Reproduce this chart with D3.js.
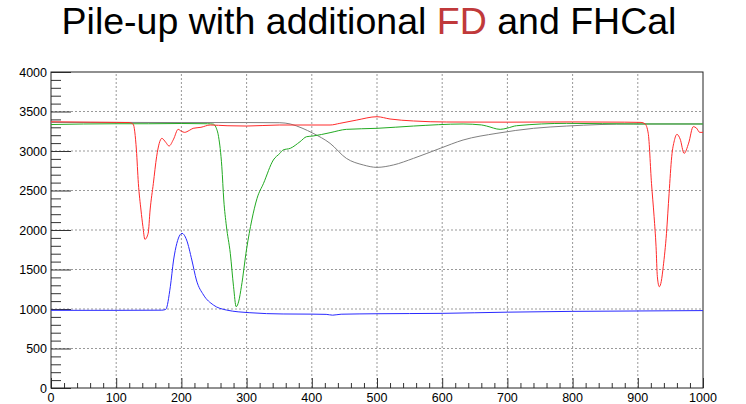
<!DOCTYPE html>
<html>
<head>
<meta charset="utf-8">
<script src="https://cdn.jsdelivr.net/npm/d3@7"></script>
<style>
  body { margin: 0; background: #fff; }
  svg { display: block; font-family: "Liberation Sans", Arial, sans-serif; }
</style>
</head>
<body>
<script>
let w = 746;
let h = 404;
let margin = {left: 51, right: 43, top: 72, bottom: 16};

let xTicks = [0,100,200,300,400,500,600,700,800,900,1000];
let yTicks = [0,500,1000,1500,2000,2500,3000,3500,4000];

// [x, value]
let redPts = [[0,3370],[60,3365],[100,3362],[120,3360],[126,3340],[131,3013],[134,2591],[138,2253],[141,2042],[144,1882],
  [149,1958],[152,2253],[157,2591],[162,2928],[166,3097],[170,3160],[176,3110],[181,3063],[188,3150],[195,3274],
  [200,3250],[205,3236],[212,3260],[218,3287],[230,3300],[244,3329],[270,3320],[300,3316],[350,3329],[400,3329],
  [428,3329],[443,3350],[469,3392],[500,3434],[520,3405],[556,3380],[607,3367],[700,3365],[800,3368],[880,3365],
  [905,3362],[911,3345],[916,3224],[921,2591],[925,2169],[928,1789],[930,1409],[933,1282],[936,1350],[939,1535],
  [944,1958],[948,2464],[952,2928],[956,3130],[960,3211],[965,3150],[971,2970],[978,3100],[985,3308],[990,3290],
  [995,3236],[1000,3236]];
let greenPts = [[0,3335],[50,3342],[100,3345],[150,3345],[200,3348],[240,3345],[249,3340],[253,3300],[257,3181],[262,2801],
  [265,2380],[269,2050],[275,1705],[280,1282],[284,1029],[288,1100],[292,1282],[300,1760],[308,2127],[316,2400],
  [326,2591],[341,2886],[351,2970],[356,3013],[367,3034],[382,3118],[392,3181],[402,3190],[428,3232],[453,3274],
  [500,3287],[556,3316],[632,3342],[660,3330],[668,3316],[689,3274],[700,3290],[714,3320],[791,3350],[900,3342],
  [1000,3342]];
let grayPts = [[0,3362],[100,3362],[200,3360],[300,3360],[351,3358],[367,3342],[385,3290],[402,3224],[428,3097],[453,2907],
  [479,2823],[500,2793],[525,2823],[556,2907],[597,3034],[632,3139],[684,3224],[740,3287],[791,3316],[893,3342],
  [1000,3342]];
let bluePts = [[0,983],[100,983],[170,985],[176,995],[183,1282],[188,1620],[193,1831],[198,1940],[201,1958],[204,1940],
  [208,1873],[216,1620],[223,1367],[234,1177],[249,1051],[269,987],[305,953],[356,937],[400,935],[422,932],
  [432,922],[445,934],[500,940],[600,945],[700,960],[800,970],[900,975],[1000,980]];

let svg = d3.select("body")
            .append("svg")
            .attr("width", w)
            .attr("height", h);

let x = d3.scaleLinear().domain([0, 1000]).range([margin.left, w - margin.right]);
let y = d3.scaleLinear().domain([0, 4000]).range([h - margin.bottom, margin.top]);

// title
let title = svg.append("text")
  .attr("x", 369).attr("y", 34)
  .attr("text-anchor", "middle")
  .attr("font-size", 37.5);
title.append("tspan").text("Pile-up with additional ");
title.append("tspan").attr("fill", "#c0393b").text("FD");
title.append("tspan").text(" and FHCal");

// grid
svg.append("g").selectAll("line")
  .data(xTicks.slice(1, -1))
  .enter().append("line")
    .attr("x1", d => x(d)).attr("x2", d => x(d))
    .attr("y1", y(0)).attr("y2", y(4000))
    .attr("stroke", "#999").attr("stroke-dasharray", "2,2");
svg.append("g").selectAll("line")
  .data(yTicks.slice(1, -1))
  .enter().append("line")
    .attr("x1", x(0)).attr("x2", x(1000))
    .attr("y1", d => y(d)).attr("y2", d => y(d))
    .attr("stroke", "#999").attr("stroke-dasharray", "2,2");

// axes, ticks drawn inside like ROOT
let xAxis = svg.append("g").attr("transform", "translate(0," + y(0) + ")")
  .call(d3.axisTop(x).tickValues(d3.range(0, 1001, 20)).tickSize(5).tickFormat(""));
xAxis.selectAll(".tick line").filter(d => d % 100 === 0).attr("y2", -10);
svg.append("g").selectAll("text")
  .data(xTicks)
  .enter().append("text")
    .attr("x", d => x(d)).attr("y", y(0) + 14)
    .attr("text-anchor", "middle").attr("font-size", 12.5)
    .text(d => d);

let yAxis = svg.append("g").attr("transform", "translate(" + x(0) + ",0)")
  .call(d3.axisRight(y).tickValues(d3.range(0, 4001, 100)).tickSize(10).tickFormat(""));
yAxis.selectAll(".tick line").filter(d => d % 500 === 0).attr("x2", 20);
svg.append("g").selectAll("text")
  .data(yTicks)
  .enter().append("text")
    .attr("x", x(0) - 4).attr("y", d => y(d) + 4.5)
    .attr("text-anchor", "end").attr("font-size", 12.5)
    .text(d => d);

svg.selectAll(".domain").attr("stroke", "none");
svg.selectAll(".tick line").attr("stroke", "#333");

// frame
svg.append("rect")
  .attr("x", x(0)).attr("y", y(4000))
  .attr("width", x(1000) - x(0)).attr("height", y(0) - y(4000))
  .attr("fill", "none").attr("stroke", "#222");

// curves
let line = d3.line()
  .x(d => x(d[0]))
  .y(d => y(d[1]))
  .curve(d3.curveMonotoneX);

let series = [
  {pts: grayPts, color: "#808080"},
  {pts: greenPts, color: "#22aa22"},
  {pts: redPts, color: "#ff2a2a"},
  {pts: bluePts, color: "#2a2aff"}
];

svg.selectAll("path.curve")
  .data(series)
  .enter().append("path")
    .attr("class", "curve")
    .attr("d", d => line(d.pts))
    .attr("fill", "none")
    .attr("stroke", d => d.color)
    .attr("stroke-width", 1);
</script>
</body>
</html>
